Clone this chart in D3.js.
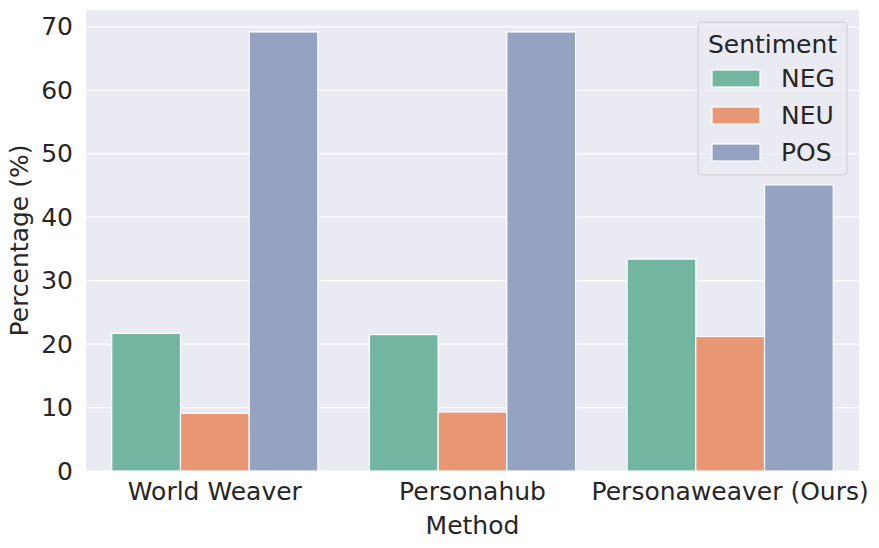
<!DOCTYPE html>
<html><head><meta charset="utf-8">
<script src="https://cdn.jsdelivr.net/npm/d3@7"></script>
<style>body{margin:0;background:#fff}svg{display:block}text{font-family:"DejaVu Sans",sans-serif;fill:#262626}</style>
</head><body><svg id="c" width="879" height="548"></svg>
<script>
const methods = ["World Weaver", "Personahub", "Personaweaver (Ours)"];
const sentiments = ["NEG", "NEU", "POS"];
const NEG = [21.7, 21.5, 33.4];
const NEU = [9.1, 9.3, 21.2];
const POS = [69.2, 69.2, 45.1];
const yTicks = [0, 10, 20, 30, 40, 50, 60, 70];
const colors = ["#72b6a1", "#e99675", "#95a3c3"];
const seriesVals = [NEG, NEU, POS];

const W = 879, H = 548;
const m = {l: 86, r: 20, t: 10, b: 77};
const svg = d3.select("#c");
const iw = W - m.l - m.r, ih = H - m.t - m.b;
const g = svg.append("g").attr("transform", `translate(${m.l},${m.t})`);
const fs = 25;

const ymax = d3.max(seriesVals.flat()) * 1.05;
const x = d3.scaleBand().domain(methods).range([0, iw]).paddingInner(0.2).paddingOuter(0.1);
const xs = d3.scaleBand().domain(sentiments).range([0, x.bandwidth()]);
const y = d3.scaleLinear().domain([0, ymax]).range([ih, 0]);

g.append("rect").attr("width", iw).attr("height", ih).attr("fill", "#eaeaf2");
g.selectAll(".grid").data(yTicks).join("line")
  .attr("x1", 0).attr("x2", iw).attr("y1", d => y(d)).attr("y2", d => y(d))
  .attr("stroke", "#fff").attr("stroke-width", 1.25);

sentiments.forEach((s, si) => {
  g.selectAll(".b" + s).data(methods).join("rect")
    .attr("x", d => x(d) + xs(s))
    .attr("y", (d, i) => y(seriesVals[si][i]))
    .attr("width", xs.bandwidth())
    .attr("height", (d, i) => y(0) - y(seriesVals[si][i]))
    .attr("fill", colors[si]).attr("stroke", "#fff").attr("stroke-width", 1.2);
});

const ya = g.append("g").call(d3.axisLeft(y).tickValues(yTicks).tickSize(0).tickPadding(13));
ya.select(".domain").remove();
ya.selectAll("text").style("font-size", fs + "px").attr("font-family", "DejaVu Sans").attr("fill", "#262626");

const xa = g.append("g").attr("transform", `translate(0,${ih})`).call(d3.axisBottom(x).tickSize(0).tickPadding(11));
xa.select(".domain").remove();
xa.selectAll("text").style("font-size", fs + "px").attr("font-family", "DejaVu Sans").attr("fill", "#262626");

svg.append("text").attr("x", m.l + iw / 2).attr("y", 534).attr("text-anchor", "middle")
  .style("font-size", fs + "px").text("Method");
svg.append("text").attr("transform", `translate(28,${m.t + ih / 2}) rotate(-90)`).attr("text-anchor", "middle")
  .style("font-size", fs + "px").text("Percentage (%)");

// legend
const lg = svg.append("g").attr("transform", "translate(698,22)");
lg.append("rect").attr("width", 149).attr("height", 153).attr("rx", 4)
  .attr("fill", "#eaeaf2").attr("fill-opacity", 0.8).attr("stroke", "#cccccc");
lg.append("text").attr("x", 74.5).attr("y", 31).attr("text-anchor", "middle").style("font-size", fs + "px").text("Sentiment");
sentiments.forEach((s, i) => {
  lg.append("rect").attr("x", 14).attr("y", 48 + i * 37).attr("width", 48).attr("height", 17)
    .attr("fill", colors[i]).attr("stroke", "#fff").attr("stroke-width", 1.2);
  lg.append("text").attr("x", 83).attr("y", 65 + i * 37).style("font-size", fs + "px").text(s);
});
</script></body></html>
